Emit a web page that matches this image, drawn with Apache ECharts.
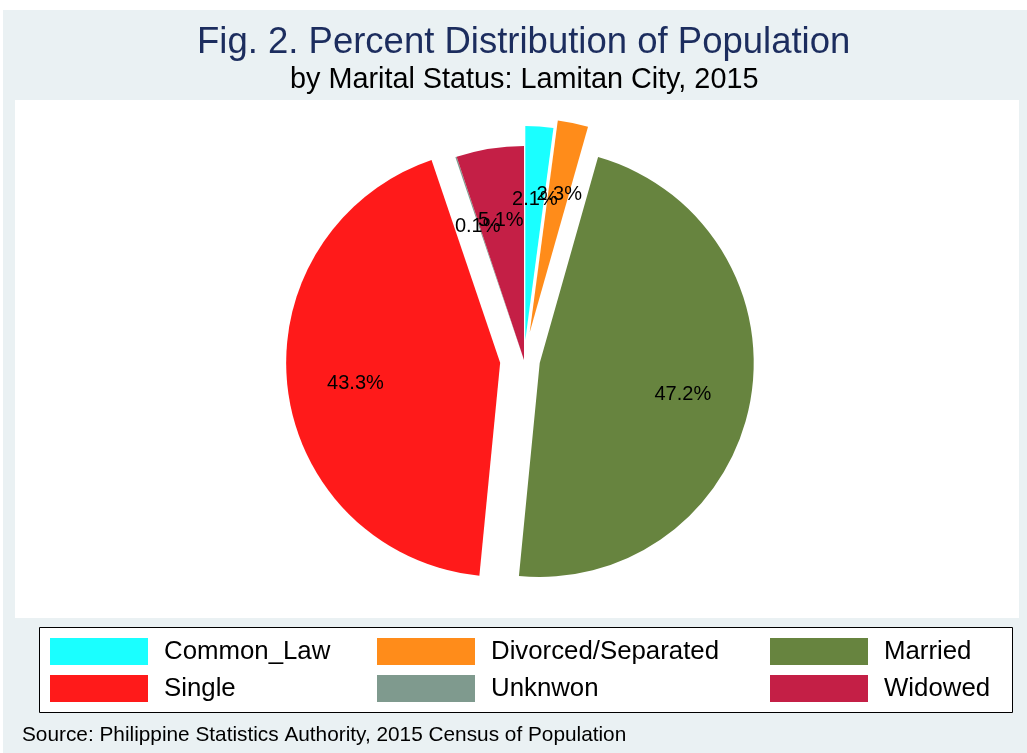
<!DOCTYPE html>
<html>
<head>
<meta charset="utf-8">
<title>Percent Distribution of Population by Marital Status</title>
<script src="https://cdn.jsdelivr.net/npm/echarts@6/dist/echarts.min.js"></script>
<style>
  html, body { margin: 0; padding: 0; background: #fff; }
  #main { width: 1027px; height: 753px; }
</style>
</head>
<body>
<div id="main"></div>
<script>
// values (percent of population)
const categories = ["Common_Law", "Divorced/Separated", "Married", "Single", "Unknwon", "Widowed"];
const percents = [2.1, 2.3, 47.2, 43.3, 0.1, 5.1];
const legendColumns = [
  ["Common_Law", "Single"],
  ["Divorced/Separated", "Unknwon"],
  ["Married", "Widowed"],
];

// styling
const FONT = '"Liberation Sans", Arial, Helvetica, sans-serif';
const colors = {
  "Common_Law": "#1affff",
  "Divorced/Separated": "#ff8c1a",
  "Married": "#67843f",
  "Single": "#ff1a1a",
  "Unknwon": "#7f9a8e",
  "Widowed": "#c41f46",
};
// how far each slice is pulled out of the pie, px
const explode = {
  "Common_Law": 20,
  "Divorced/Separated": 28,
  "Married": 16,
  "Single": 24,
  "Unknwon": 0,
  "Widowed": 0,
};
const legendLeft = [50, 377, 770];
const R = 214;
const CENTER = [524, 360];

// one pie per slice so each can have its own offset; the label pie
// uses an inner radius so labels sit at 2/3 of the radius
function sliceSeries(i, labelOnly) {
  const name = categories[i];
  return {
    type: "pie",
    name: name + (labelOnly ? "-label" : ""),
    center: CENTER,
    radius: labelOnly ? [R / 3, R] : [0, R],
    startAngle: 90,
    clockwise: true,
    silent: true,
    animation: false,
    selectedMode: "multiple",
    selectedOffset: explode[name],
    avoidLabelOverlap: false,
    labelLayout: { hideOverlap: false },
    minAngle: 0,
    minShowLabelAngle: 0,
    itemStyle: { borderWidth: 0 },
    labelLine: { show: false },
    emphasis: { disabled: true },
    label: {
      show: false,
      position: "inside",
      color: "#000",
      fontSize: 20,
      fontFamily: FONT,
      // empty first line nudges the number a little below the anchor
      formatter: (p) => "{gap| }\n{v|" + p.value.toFixed(1) + "%}",
      rich: {
        gap: { fontSize: 8, lineHeight: 9 },
        v: { fontSize: 20, color: "#000", fontFamily: FONT, lineHeight: 22 },
      },
    },
    data: categories.map((c, j) => ({
      name: c,
      value: percents[j],
      selected: j === i && explode[c] > 0,
      itemStyle: { color: !labelOnly && j === i ? colors[c] : "rgba(0,0,0,0)", borderWidth: 0 },
      label: { show: labelOnly && j === i },
    })),
  };
}

const series = [];
categories.forEach((c, i) => series.push(sliceSeries(i, false)));
categories.forEach((c, i) => series.push(sliceSeries(i, true)));

const chart = echarts.init(document.getElementById("main"), null, { renderer: "canvas" });

chart.setOption({
  backgroundColor: "#ffffff",
  animation: false,
  title: [
    {
      text: "Fig. 2. Percent Distribution of Population",
      left: 197,
      top: 24,
      padding: 0,
      textStyle: { fontSize: 36.5, fontWeight: "normal", color: "#1c2d5e", fontFamily: FONT },
    },
    {
      text: "by Marital Status: Lamitan City, 2015",
      left: 290,
      top: 66,
      padding: 0,
      textStyle: { fontSize: 28.8, fontWeight: "normal", color: "#000", fontFamily: FONT },
    },
    {
      text: "Source: Philippine Statistics Authority, 2015 Census of Population",
      left: 22,
      top: 725,
      padding: 0,
      textStyle: { fontSize: 20.8, fontWeight: "normal", color: "#000", fontFamily: FONT },
    },
  ],
  graphic: {
    elements: [
      { type: "rect", z: -10, silent: true, shape: { x: 3, y: 10, width: 1024, height: 743 }, style: { fill: "#eaf1f3" } },
      { type: "rect", z: -9, silent: true, shape: { x: 15, y: 100, width: 1004, height: 518 }, style: { fill: "#ffffff" } },
      { type: "rect", z: -8, silent: true, shape: { x: 39.5, y: 627.5, width: 973, height: 85 }, style: { fill: "#ffffff", stroke: "#000", lineWidth: 1 } },
    ],
  },
  legend: legendColumns.map((col, k) => ({
    orient: "vertical",
    left: legendLeft[k],
    top: 638,
    padding: 0,
    itemWidth: 98,
    itemHeight: 27,
    itemGap: 10,
    icon: "rect",
    selectedMode: false,
    itemStyle: { borderWidth: 0 },
    textStyle: { fontSize: 25.8, color: "#000", fontFamily: FONT, padding: [8, 0, 0, 11] },
    data: col.map((n) => ({ name: n, itemStyle: { color: colors[n], borderWidth: 0 } })),
  })),
  series: series,
});
</script>
</body>
</html>
